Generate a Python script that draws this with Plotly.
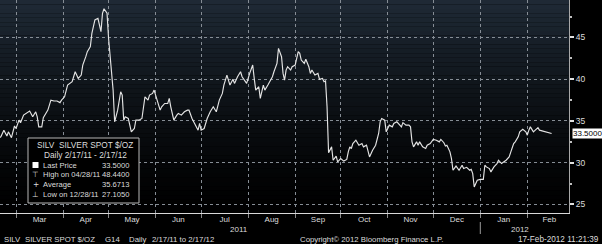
import plotly.graph_objects as go
import pandas as pd

# ---------------- data ----------------
DATES = [
    "2011-02-17", "2011-02-19", "2011-02-21", "2011-02-23", "2011-02-24", "2011-02-26", "2011-02-28",
    "2011-03-01", "2011-03-03", "2011-03-04", "2011-03-06", "2011-03-09", "2011-03-10", "2011-03-12",
    "2011-03-13", "2011-03-14", "2011-03-15", "2011-03-16", "2011-03-18", "2011-03-19", "2011-03-22",
    "2011-03-24", "2011-03-26", "2011-03-28", "2011-03-30", "2011-03-31",
    "2011-04-02", "2011-04-03", "2011-04-04", "2011-04-07", "2011-04-09", "2011-04-10", "2011-04-11",
    "2011-04-13", "2011-04-14", "2011-04-16", "2011-04-17", "2011-04-19", "2011-04-20", "2011-04-22",
    "2011-04-24", "2011-04-26", "2011-04-27", "2011-04-28", "2011-04-30",
    "2011-05-01", "2011-05-02", "2011-05-03", "2011-05-04", "2011-05-05", "2011-05-07", "2011-05-09",
    "2011-05-10", "2011-05-11", "2011-05-12", "2011-05-14", "2011-05-15", "2011-05-16", "2011-05-18",
    "2011-05-19", "2011-05-21", "2011-05-23", "2011-05-25", "2011-05-27", "2011-05-28", "2011-05-30",
    "2011-05-31",
    "2011-06-02", "2011-06-04", "2011-06-05", "2011-06-07", "2011-06-09", "2011-06-10", "2011-06-11",
    "2011-06-13", "2011-06-15", "2011-06-16", "2011-06-18", "2011-06-20", "2011-06-22", "2011-06-23",
    "2011-06-25", "2011-06-27", "2011-06-29", "2011-06-30",
    "2011-07-01", "2011-07-03", "2011-07-05", "2011-07-07", "2011-07-09", "2011-07-11", "2011-07-13",
    "2011-07-15", "2011-07-16", "2011-07-18", "2011-07-20", "2011-07-22", "2011-07-23", "2011-07-25",
    "2011-07-27", "2011-07-28", "2011-07-30", "2011-07-31",
    "2011-08-02", "2011-08-04", "2011-08-05", "2011-08-06", "2011-08-08", "2011-08-09", "2011-08-11",
    "2011-08-12", "2011-08-14", "2011-08-16", "2011-08-17", "2011-08-18", "2011-08-20", "2011-08-21",
    "2011-08-23", "2011-08-24", "2011-08-25", "2011-08-26", "2011-08-27", "2011-08-29", "2011-08-30",
    "2011-09-01", "2011-09-03", "2011-09-04", "2011-09-05", "2011-09-07", "2011-09-08", "2011-09-10",
    "2011-09-11", "2011-09-12", "2011-09-14", "2011-09-16", "2011-09-17", "2011-09-19", "2011-09-20",
    "2011-09-21", "2011-09-22", "2011-09-23", "2011-09-25", "2011-09-26", "2011-09-28", "2011-09-29",
    "2011-10-01", "2011-10-03", "2011-10-05", "2011-10-06", "2011-10-07", "2011-10-08", "2011-10-09",
    "2011-10-11", "2011-10-13", "2011-10-15", "2011-10-16", "2011-10-18", "2011-10-19", "2011-10-20",
    "2011-10-22", "2011-10-24", "2011-10-26", "2011-10-27", "2011-10-28", "2011-10-30", "2011-10-31",
    "2011-11-02", "2011-11-04", "2011-11-05", "2011-11-07", "2011-11-08", "2011-11-10", "2011-11-11",
    "2011-11-13", "2011-11-15", "2011-11-16", "2011-11-17", "2011-11-18", "2011-11-20", "2011-11-21",
    "2011-11-22", "2011-11-24", "2011-11-26", "2011-11-27", "2011-11-29",
    "2011-12-01", "2011-12-03", "2011-12-05", "2011-12-06", "2011-12-08", "2011-12-09", "2011-12-10",
    "2011-12-12", "2011-12-13", "2011-12-14", "2011-12-16", "2011-12-18", "2011-12-20", "2011-12-21",
    "2011-12-23", "2011-12-25", "2011-12-26", "2011-12-27", "2011-12-28", "2011-12-30",
    "2012-01-01", "2012-01-03", "2012-01-04", "2012-01-05", "2012-01-07", "2012-01-08", "2012-01-10",
    "2012-01-12", "2012-01-13", "2012-01-15", "2012-01-17", "2012-01-18", "2012-01-20", "2012-01-21",
    "2012-01-23", "2012-01-24", "2012-01-26", "2012-01-27", "2012-01-29", "2012-01-31",
    "2012-02-01", "2012-02-02", "2012-02-03", "2012-02-05", "2012-02-06", "2012-02-08", "2012-02-09",
    "2012-02-11", "2012-02-12", "2012-02-14", "2012-02-15", "2012-02-17",
]

PRICES = [
    32.9, 33.1, 33.9, 33.2, 33.7, 33.0, 34.4,
    34.1, 35.1, 34.8, 35.7, 36.1, 36.2, 35.5,
    35.9, 36.1, 35.5, 34.3, 34.3, 35.4, 36.3,
    37.5, 37.4, 37.4, 37.2, 37.5,
    37.9, 38.5, 39.3, 39.7, 40.9, 40.5, 40.1,
    40.5, 41.7, 42.7, 43.3, 43.9, 45.5, 47.1,
    47.3, 45.7, 47.9, 48.44, 47.9,
    44.9, 42.5, 40.3, 38.7, 34.9, 36.3, 38.5,
    38.1, 35.1, 35.5, 35.3, 34.5, 33.7, 34.1,
    35.1, 35.1, 35.3, 37.9, 37.5, 38.1, 38.3,
    38.7,
    37.5, 36.3, 36.7, 37.1, 37.1, 37.7, 36.7,
    35.1, 35.7, 35.9, 35.7, 36.1, 36.3, 36.3,
    35.3, 34.5, 33.9, 34.7,
    33.9, 34.1, 35.3, 36.1, 36.7, 36.1, 37.5,
    38.3, 39.3, 40.5, 39.3, 40.0, 39.5, 40.3,
    40.9, 40.3, 39.7, 39.5,
    40.7, 41.7, 40.1, 38.7, 39.1, 37.7, 39.3,
    38.7, 39.3, 39.9, 40.3, 40.9, 41.9, 43.7,
    42.7, 40.7, 39.9, 41.1, 41.5, 41.1, 41.5,
    41.7, 43.3, 43.1, 42.3, 41.9, 42.4, 41.5,
    40.7, 41.1, 40.5, 40.7, 40.0, 40.1, 39.7,
    39.8, 36.7, 31.2, 31.9, 30.3, 30.8, 30.1,
    30.5, 30.2, 30.4, 31.3, 31.9, 31.7, 32.3,
    32.7, 32.1, 32.3, 31.9, 32.1, 31.3, 30.7,
    31.5, 32.1, 33.5, 34.9, 35.3, 35.1, 33.7,
    34.5, 34.3, 34.7, 34.9, 34.7, 34.3, 34.8,
    34.5, 34.5, 34.3, 32.5, 31.9, 32.5, 32.1,
    32.5, 31.9, 31.7, 32.1, 32.3,
    32.8, 32.7, 32.5, 32.8, 32.4, 32.0, 32.1,
    31.3, 30.5, 29.1, 29.6, 29.1, 29.7, 29.3,
    29.45, 29.1, 29.2, 28.7, 27.105, 27.9,
    28.0, 28.0, 29.7, 29.5, 29.3, 28.9, 29.5,
    29.9, 30.3, 29.9, 30.1, 30.3, 30.7, 31.3,
    32.3, 32.5, 33.1, 33.7, 34.0, 33.7,
    33.3, 33.9, 34.3, 33.7, 33.9, 34.2, 33.9,
    33.8, 33.7, 33.65, 33.6, 33.5,
]

MONTH_LABELS = ["Mar", "Apr", "May", "Jun", "Jul", "Aug", "Sep", "Oct", "Nov", "Dec", "Jan", "Feb"]
MONTH_STARTS = ["2011-03-01", "2011-04-01", "2011-05-01", "2011-06-01", "2011-07-01", "2011-08-01",
                "2011-09-01", "2011-10-01", "2011-11-01", "2011-12-01", "2012-01-01", "2012-02-01",
                "2012-03-01"]
YEAR_LABELS = ["2011", "2012"]
YEAR_LABEL_DATES = ["2011-07-26", "2012-01-27"]
Y_TICKS = [25, 30, 35, 40, 45]

NB = "\u00a0"
LEGEND_TITLE = ["SILV" + NB + NB + "SILVER SPOT $/OZ", "Daily 2/17/11 - 2/17/12"]
STAT_SYMBOLS = ["", "\u22a4", "+", "\u22a5"]
STAT_LABELS = ["Last Price", "High on 04/28/11", "Average", "Low on 12/28/11"]
STAT_VALUES = ["33.5000", "48.4400", "35.6713", "27.1050"]
LAST_PRICE = 33.5

FOOTER_LEFT = ["SILV", "SILVER SPOT $/OZ", "G14", "Daily", "2/17/11 to 2/17/12"]
FOOTER_LEFT_X = [2, 23, 103, 127, 150]
FOOTER_MID = "Copyright\u00a9 2012 Bloomberg Finance L.P."
FOOTER_RIGHT = "17-Feb-2012 11:21:39"

# ---------------- layout geometry ----------------
W, H = 602, 244
ML, MR, MT, MB = 0, 33, 0, 31
PW, PH = W - ML - MR, H - MT - MB
X_RANGE = ["2011-02-18 10:55", "2012-02-28 11:02"]
Y_RANGE = [23.98, 49.49]
FONT = "Liberation Sans, Arial, sans-serif"
TXT = "#dcdcdc"
GRID = "#868d95"


def px(x):
    return (x - ML) / PW


def py(y):
    return 1 - (y - MT) / PH


starts = pd.to_datetime(pd.Series(MONTH_STARTS))
mids = (starts[:-1].values + (starts[1:].values - starts[:-1].values) / 2)
mids = pd.to_datetime(mids)

fig = go.Figure()
fig.add_trace(go.Scatter(x=DATES, y=PRICES, mode="lines",
                         line=dict(color="#e4e4e4", width=1.15),
                         hoverinfo="skip", showlegend=False))
# invisible trace to anchor the grid axis
fig.add_trace(go.Scatter(x=[MONTH_STARTS[0]], y=[Y_RANGE[0]], xaxis="x2", mode="markers",
                         marker=dict(opacity=0), hoverinfo="skip", showlegend=False))

shapes = []
# vertical gradient background of the plot area
N = 48
top = (31, 42, 54)
for i in range(N):
    t = (i + 0.5) / N
    f = max(0.0, 1 - t) ** 1.35
    c = "rgb(%d,%d,%d)" % tuple(int(round(v * f)) for v in top)
    shapes.append(dict(type="rect", xref="paper", yref="paper", x0=0, x1=1,
                       y0=1 - (i + 1) / N, y1=1 - i / N, fillcolor=c,
                       line=dict(width=0), layer="below"))

# legend box
shapes.append(dict(type="rect", xref="paper", yref="paper", x0=px(28), x1=px(139),
                   y0=py(203), y1=py(138), fillcolor="black",
                   line=dict(color="#b8b8b8", width=1), layer="above"))
# white square for last price
shapes.append(dict(type="rect", xref="paper", yref="paper", x0=px(32.5), x1=px(38.5),
                   y0=py(168), y1=py(162), fillcolor="white",
                   line=dict(width=0), layer="above"))
# year separator
shapes.append(dict(type="line", xref="x", yref="paper", x0=MONTH_STARTS[10], x1=MONTH_STARTS[10],
                   y0=py(222), y1=py(234), line=dict(color="#9a9a9a", width=1)))

ann = []
for i, t in enumerate(LEGEND_TITLE):
    ann.append(dict(x=px(85), y=py(145 + 10 * i), xref="paper", yref="paper", text=t,
                    showarrow=False, xanchor="center", yanchor="middle",
                    font=dict(family=FONT, size=8.3, color=TXT)))
for i, (s, l, v) in enumerate(zip(STAT_SYMBOLS, STAT_LABELS, STAT_VALUES)):
    yy = py(165 + 9.8 * i)
    if s:
        ann.append(dict(x=px(35.5), y=yy, xref="paper", yref="paper", text=s, showarrow=False,
                        xanchor="center", yanchor="middle",
                        font=dict(family="DejaVu Sans", size=7.5, color=TXT)))
    ann.append(dict(x=px(41), y=yy, xref="paper", yref="paper", text=l, showarrow=False,
                    xanchor="left", yanchor="middle", font=dict(family=FONT, size=7.6, color=TXT)))
    ann.append(dict(x=px(131), y=yy, xref="paper", yref="paper", text=v, showarrow=False,
                    xanchor="right", yanchor="middle", font=dict(family=FONT, size=7.6, color=TXT)))

for t, d in zip(YEAR_LABELS, YEAR_LABEL_DATES):
    ann.append(dict(x=d, y=py(229), xref="x", yref="paper", text=t, showarrow=False,
                    xanchor="center", yanchor="middle", font=dict(family=FONT, size=8, color=TXT)))

# last price tag
ann.append(dict(x=1, y=LAST_PRICE, xref="paper", yref="y", text=STAT_VALUES[0], showarrow=False,
                xanchor="left", yanchor="middle", xshift=3, bgcolor="white", borderpad=0,
                font=dict(family=FONT, size=8, color="black")))

# footer
for t, xx in zip(FOOTER_LEFT, FOOTER_LEFT_X):
    ann.append(dict(x=px(xx), y=py(239), xref="paper", yref="paper", text=t, showarrow=False,
                    xanchor="left", yanchor="middle", font=dict(family=FONT, size=7.8, color=TXT)))
ann.append(dict(x=px(298), y=py(239), xref="paper", yref="paper", text=FOOTER_MID, showarrow=False,
                xanchor="left", yanchor="middle", font=dict(family=FONT, size=7.8, color=TXT)))
ann.append(dict(x=px(601), y=py(239), xref="paper", yref="paper", text=FOOTER_RIGHT, showarrow=False,
                xanchor="right", yanchor="middle", font=dict(family=FONT, size=8.2, color=TXT)))

fig.update_layout(
    width=W, height=H, margin=dict(l=ML, r=MR, t=MT, b=MB, pad=0),
    paper_bgcolor="black", plot_bgcolor="black", showlegend=False,
    xaxis=dict(type="date", range=X_RANGE, tickmode="array", tickvals=list(mids),
               ticktext=MONTH_LABELS, ticks="", showgrid=False, zeroline=False,
               showline=True, linecolor="#d8d8d8", linewidth=1, ticklabelstandoff=-2,
               tickfont=dict(family=FONT, size=8, color=TXT), fixedrange=True),
    xaxis2=dict(type="date", range=X_RANGE, overlaying="x", anchor="y", side="bottom",
                tickmode="array", tickvals=MONTH_STARTS[:-1], showticklabels=False,
                ticks="outside", ticklen=4, tickcolor="#8a8a8a", showgrid=True,
                gridcolor=GRID, griddash="dot", gridwidth=1, zeroline=False, showline=False),
    yaxis=dict(range=Y_RANGE, side="right", tickmode="array", tickvals=Y_TICKS,
               ticks="outside", ticklen=4, tickwidth=1.5, tickcolor="#e0e0e0",
               showgrid=True, gridcolor=GRID, griddash="dot", gridwidth=1, zeroline=False,
               showline=True, linecolor="#a8a8a8", linewidth=1,
               tickfont=dict(family=FONT, size=8.5, color=TXT),
               minor=dict(tick0=25, dtick=2.5, ticks="outside", ticklen=2, tickcolor="#c0c0c0",
                          showgrid=False)),
    shapes=shapes, annotations=ann,
)

fig.write_html("out.html")
